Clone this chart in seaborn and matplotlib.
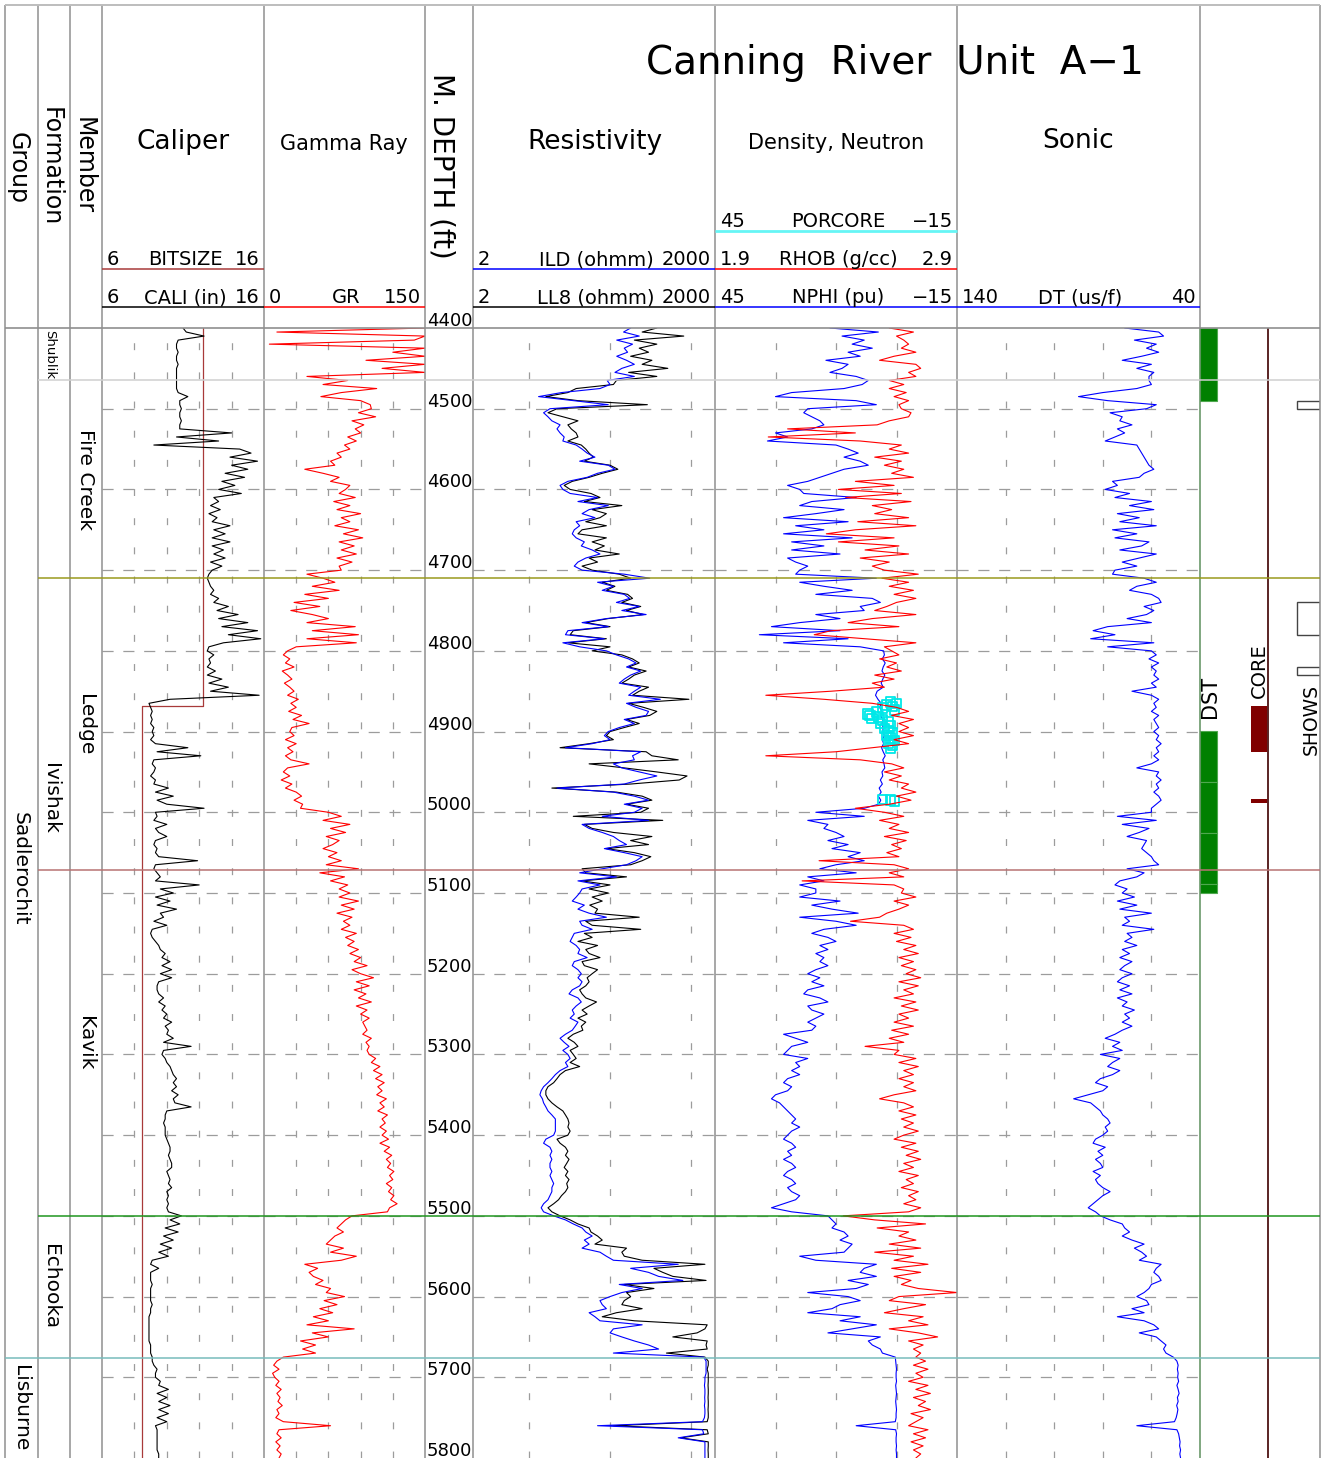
import numpy as np
import pandas as pd
import matplotlib
matplotlib.use("Agg")
import matplotlib.pyplot as plt
import seaborn as sns

sns.set_theme(style="white")
plt.rcParams["font.family"] = ["DejaVu Sans"]
plt.rcParams["text.color"] = "black"
plt.rcParams["lines.scale_dashes"] = False

# ---------------------------------------------------------------- data
TOP_D, BASE_D, STEP_D = 4400, 5800, 5
DEPTH = np.arange(TOP_D, BASE_D + 1, STEP_D)          # sample depths (ft)

CALI = [
    11.0, 11.2, 12.3, 10.7, 10.6, 10.6, 10.7, 10.6, 10.6, 10.7, 10.6, 10.6, 10.6, 10.6, 10.6, 10.6, 10.7, 11.3, 10.8, 10.8,
    10.9, 10.8, 10.8, 10.9, 10.8, 10.8, 14.0, 10.6, 13.2, 9.2, 14.5, 15.2, 13.9, 15.6, 14.0, 15.0, 13.6, 14.8, 13.4, 14.2,
    13.2, 14.6, 12.9, 13.2, 12.7, 13.3, 12.6, 13.1, 12.8, 13.9, 12.9, 13.6, 12.8, 13.9, 12.8, 13.5, 12.9, 13.6, 12.7, 13.4,
    12.8, 12.6, 12.5, 12.6, 12.7, 12.9, 12.7, 13.2, 12.9, 13.8, 13.1, 14.4, 13.2, 15.0, 13.4, 15.6, 13.8, 15.8, 13.5, 12.6,
    12.5, 12.9, 12.6, 12.7, 12.5, 13.0, 12.5, 13.4, 12.6, 13.8, 12.7, 15.7, 10.2, 8.9, 9.0, 9.1, 9.0, 9.1, 9.0, 9.2,
    9.1, 9.2, 9.0, 9.3, 11.3, 9.4, 12.1, 9.2, 9.1, 9.3, 9.2, 9.0, 9.3, 9.2, 10.1, 9.3, 10.4, 9.4, 10.0, 12.3,
    9.3, 9.4, 9.2, 10.0, 9.3, 9.5, 10.0, 9.3, 9.2, 9.4, 9.3, 9.5, 11.9, 9.3, 9.2, 9.4, 9.6, 9.3, 12.0, 9.6,
    10.4, 9.3, 10.2, 9.4, 10.6, 9.6, 9.8, 9.2, 10.0, 9.1, 9.0, 9.1, 9.3, 9.5, 9.6, 9.9, 9.7, 10.2, 9.7, 10.3,
    9.6, 10.3, 9.5, 9.4, 9.4, 9.5, 9.8, 9.5, 9.9, 9.7, 10.0, 9.8, 10.3, 9.9, 10.1, 10.0, 10.4, 9.8, 11.5, 9.8,
    9.7, 9.9, 10.0, 10.2, 10.3, 10.4, 10.6, 10.4, 10.6, 10.3, 10.7, 10.4, 10.5, 11.5, 10.0, 9.9, 9.9, 9.8, 9.9, 9.9,
    9.9, 10.0, 10.1, 10.2, 10.2, 10.1, 10.2, 10.3, 10.3, 10.0, 10.1, 10.2, 10.1, 10.3, 10.0, 10.1, 10.0, 10.1, 10.0, 10.1,
    10.9, 10.2, 10.8, 9.9, 10.7, 9.8, 10.4, 9.6, 10.3, 9.5, 10.1, 9.1, 9.0, 9.5, 9.0, 9.0, 9.0, 9.1, 9.0, 9.0,
    9.0, 9.0, 9.1, 9.0, 9.0, 8.9, 8.9, 8.9, 8.9, 8.9, 8.9, 8.9, 9.0, 9.0, 9.0, 9.1, 9.1, 9.2, 9.4, 9.3,
    9.3, 9.6, 9.5, 10.1, 9.4, 10.0, 9.5, 10.2, 9.5, 10.1, 9.4, 10.0, 9.3, 9.4, 9.4, 9.4, 9.4, 9.4, 9.4, 9.5,
    9.5]

BIT_DEPTH = [4400, 4868, 4868, 5800]
BIT_SIZE = [12.25, 12.25, 8.5, 8.5]

GR = [
    150, 12, 150, 140, 5, 150, 120, 150, 95, 150, 110, 150, 40, 78, 55, 105, 72, 53, 90, 99,
    100, 88, 104, 82, 93, 85, 90, 78, 86, 75, 80, 68, 72, 62, 66, 38, 55, 70, 62, 80,
    76, 70, 85, 65, 80, 68, 90, 72, 80, 66, 88, 74, 92, 70, 84, 72, 86, 68, 82, 70,
    72, 40, 55, 66, 45, 70, 38, 60, 28, 52, 25, 45, 60, 40, 85, 45, 88, 40, 86, 30,
    22, 18, 24, 20, 28, 17, 22, 26, 19, 24, 28, 22, 32, 25, 30, 23, 35, 27, 42, 26,
    24, 28, 20, 30, 22, 27, 20, 25, 42, 22, 18, 24, 16, 26, 20, 30, 35, 28, 36, 34,
    60, 72, 55, 80, 62, 76, 58, 70, 64, 55, 68, 60, 72, 58, 88, 52, 75, 62, 78, 70,
    80, 70, 88, 72, 84, 68, 82, 74, 80, 72, 86, 76, 84, 78, 88, 80, 90, 84, 96, 82,
    90, 102, 86, 98, 84, 95, 88, 100, 86, 96, 90, 98, 92, 94, 96, 92, 100, 95, 98, 96,
    98, 104, 100, 108, 102, 110, 104, 112, 106, 110, 105, 114, 108, 112, 106, 115, 110, 113, 108, 114,
    110, 116, 108, 117, 112, 119, 114, 118, 115, 121, 117, 120, 114, 119, 116, 121, 118, 124, 117, 115,
    82, 76, 72, 68, 74, 66, 62, 58, 74, 62, 86, 72, 38, 50, 42, 46, 55, 48, 62, 58,
    75, 56, 68, 52, 64, 46, 60, 40, 84, 45, 60, 34, 48, 36, 48, 18, 12, 9, 14, 8,
    10, 14, 11, 16, 12, 15, 13, 17, 12, 14, 11, 18, 62, 14, 12, 16, 11, 15, 12, 16,
    14]

ILD = [
    180, 147, 230, 121, 190, 150, 165, 121, 160, 200, 140, 115, 200, 92, 100, 75, 25, 13, 35, 95,
    18, 15, 17, 19, 24, 22, 24, 27, 26, 38, 45, 52, 65, 42, 95, 115, 70, 52, 30, 24,
    26, 32, 70, 40, 95, 55, 45, 65, 38, 42, 36, 34, 38, 48, 44, 60, 75, 50, 40, 36,
    45, 150, 310, 70, 110, 80, 150, 175, 120, 230, 140, 280, 90, 45, 95, 30, 28, 85, 26, 42,
    90, 120, 170, 210, 160, 240, 180, 150, 130, 240, 200, 170, 420, 160, 210, 300, 280, 150, 200, 130,
    95, 85, 100, 60, 28, 240, 190, 200, 110, 140, 230, 380, 230, 150, 22, 110, 200, 300, 150, 250,
    200, 80, 300, 45, 55, 80, 110, 130, 160, 85, 150, 250, 210, 160, 80, 42, 120, 40, 75, 45,
    42, 38, 34, 48, 40, 55, 90, 42, 45, 60, 36, 34, 32, 38, 42, 40, 52, 36, 34, 40,
    44, 40, 45, 42, 34, 31, 40, 44, 38, 34, 36, 32, 40, 37, 34, 28, 24, 27, 31, 26,
    30, 32, 28, 30, 24, 21, 19, 17, 15, 14, 13.5, 14.5, 15, 16, 17, 19, 21, 21, 21, 21,
    20, 16, 15, 18, 19, 18, 19, 18, 18, 19, 18, 19, 20, 19, 19, 18, 17, 15, 14, 15,
    20, 28, 35, 45, 50, 60, 48, 55, 45, 75, 90, 110, 700, 180, 300, 400, 800, 130, 250, 140,
    100, 75, 80, 90, 55, 65, 75, 250, 110, 100, 140, 200, 300, 400, 110, 1450, 1550, 1550, 1550, 1550,
    1500, 1500, 1480, 1500, 1500, 1490, 1500, 1480, 1500, 1500, 1480, 1400, 70, 1400, 1450, 700, 1500, 1500, 1500, 1500,
    1500]

LL8 = [
    380, 250, 820, 200, 380, 230, 300, 180, 330, 250, 520, 170, 380, 120, 110, 38, 30, 16, 40, 290,
    22, 17, 26, 40, 30, 33, 38, 40, 30, 44, 50, 55, 62, 48, 100, 125, 80, 55, 34, 27,
    32, 58, 75, 48, 140, 60, 90, 75, 50, 90, 45, 40, 90, 60, 85, 65, 130, 55, 70, 45,
    60, 130, 180, 80, 115, 90, 165, 190, 140, 240, 160, 260, 95, 50, 100, 35, 32, 90, 30, 100,
    60, 140, 190, 230, 170, 280, 200, 170, 140, 300, 230, 190, 950, 170, 260, 380, 310, 160, 230, 150,
    100, 90, 110, 55, 24, 280, 330, 700, 55, 150, 380, 900, 720, 180, 19, 120, 250, 330, 160, 300,
    240, 35, 450, 48, 60, 110, 330, 180, 300, 90, 200, 320, 250, 180, 45, 50, 160, 45, 100, 55,
    95, 60, 80, 56, 70, 65, 230, 50, 60, 240, 48, 60, 40, 70, 50, 55, 75, 45, 48, 70,
    60, 52, 55, 50, 42, 45, 50, 68, 55, 45, 52, 40, 50, 44, 46, 35, 30, 36, 40, 32,
    35, 38, 32, 42, 28, 24, 22, 20, 17, 16, 16, 17, 19, 22, 26, 28, 30, 31, 30, 32,
    30, 22, 24, 28, 30, 28, 31, 29, 27, 30, 28, 31, 29, 30, 28, 25, 23, 20, 17, 19,
    24, 32, 40, 55, 58, 70, 80, 65, 160, 140, 150, 250, 1500, 350, 450, 600, 1550, 150, 350, 160,
    180, 150, 140, 250, 120, 80, 200, 1600, 1500, 1200, 600, 1600, 1550, 1600, 500, 1500, 1650, 1650, 1600, 1650,
    1650, 1650, 1640, 1650, 1650, 1640, 1650, 1650, 1640, 1650, 1650, 1600, 110, 1600, 1650, 750, 1650, 1650, 1640, 1650,
    1650]

NPHI = [
    16.5, 4.5, 13.5, 8, 11, 6, 12, 9, 17.5, 12, 13.5, 16.5, 10, 7, 8.5, 13, 26, 30, 10, 5,
    22, 23, 21, 19, 18, 21, 30, 27, 32, 15, 12, 9.5, 13, 9, 7, 13, 16, 19, 22, 27,
    24, 23, 10, 21, 24, 13, 20, 28, 12, 25, 18, 28, 11, 26, 18, 26, 14, 27, 25, 22,
    24, 25, 5, 24, 18, 11, 20, 6, 4, 9, 8, 20, 14, 24, 31, 14, 34, 12, 28, 9,
    3.2, 3.0, 3.5, 2.8, 3.3, 3.6, 2.9, 3.4, 3.8, 3.3, 4.8, 5.2, 4.6, 3.8, 4.2, 3.6, 3.9, 3.4, 3.6, 3.3,
    3.4, 3.0, 3.5, 3.2, 3.7, 3.3, 2.8, 3.4, 3.1, 2.9, 3.6, 3.4, 4.0, 3.5, 4.3, 3.8, 4.5, 3.9, 4.4, 8.0,
    20, 8, 22, 17, 18, 15, 13, 17, 12, 16, 9, 12, 8, 15, 19, 10, 22, 18, 24, 20,
    20, 24, 14, 21, 16, 9.5, 24, 15, 10, 18, 21, 17, 15, 19, 17, 20, 18, 19, 17, 20,
    22, 19, 21, 18, 22, 23, 19, 17, 22, 21, 18, 20, 22, 20, 21, 28, 25, 22, 26, 27,
    28, 22, 25, 24, 26, 24, 27, 28, 26, 27, 30, 31, 29, 28, 27, 26, 25, 26, 24, 26,
    27, 28, 26, 25, 27, 26, 28, 26, 25, 27, 28, 26, 25, 27, 26, 24, 25, 28, 31, 26,
    17, 16, 15, 16, 13, 12, 14, 11, 12, 13, 24, 20, 5, 8, 9, 5, 12, 7, 10, 22,
    12, 9, 14, 16, 22, 9, 14, 5, 11, 17, 4, 7, 6, 4, 3.5, 0.3, 0.2, 0.1, 0.0, 0.1,
    0.1, 0.0, 0.2, 0.1, 0.0, 0.1, 0.2, 0.1, 0.0, 0.1, 0.1, 0.3, 10, 0.2, 0.0, 0.1, 0.1, 0.0, 0.1, 0.0,
    0.0]

RHOB = [
    2.62, 2.72, 2.65, 2.68, 2.70, 2.67, 2.73, 2.64, 2.58, 2.73, 2.75, 2.70, 2.73, 2.62, 2.68, 2.62, 2.69, 2.64, 2.70, 2.66,
    2.67, 2.71, 2.70, 2.62, 2.57, 2.20, 2.48, 2.12, 2.50, 2.67, 2.62, 2.70, 2.56, 2.67, 2.60, 2.68, 2.63, 2.72, 2.48, 2.64,
    2.41, 2.67, 2.44, 2.71, 2.55, 2.63, 2.56, 2.70, 2.49, 2.73, 2.48, 2.36, 2.64, 2.41, 2.66, 2.52, 2.70, 2.50, 2.62, 2.55,
    2.60, 2.74, 2.59, 2.70, 2.62, 2.72, 2.64, 2.73, 2.65, 2.61, 2.56, 2.73, 2.55, 2.45, 2.66, 2.38, 2.31, 2.52, 2.73, 2.60,
    2.63, 2.66, 2.58, 2.65, 2.61, 2.67, 2.56, 2.64, 2.55, 2.60, 2.38, 2.11, 2.35, 2.55, 2.65, 2.70, 2.63, 2.72, 2.66, 2.70,
    2.66, 2.72, 2.64, 2.70, 2.55, 2.40, 2.11, 2.50, 2.63, 2.68, 2.60, 2.67, 2.62, 2.70, 2.67, 2.73, 2.65, 2.71, 2.62, 2.48,
    2.60, 2.68, 2.58, 2.66, 2.62, 2.70, 2.60, 2.69, 2.63, 2.67, 2.61, 2.66, 2.33, 2.64, 2.70, 2.62, 2.68, 2.26, 2.64, 2.68,
    2.67, 2.73, 2.64, 2.70, 2.66, 2.61, 2.58, 2.46, 2.68, 2.72, 2.64, 2.71, 2.65, 2.73, 2.68, 2.74, 2.66, 2.72, 2.67, 2.73,
    2.69, 2.75, 2.66, 2.74, 2.68, 2.72, 2.64, 2.73, 2.67, 2.74, 2.66, 2.70, 2.64, 2.72, 2.63, 2.70, 2.62, 2.68, 2.52, 2.66,
    2.64, 2.73, 2.66, 2.74, 2.68, 2.72, 2.66, 2.72, 2.68, 2.73, 2.64, 2.58, 2.68, 2.72, 2.66, 2.73, 2.67, 2.72, 2.68, 2.74,
    2.68, 2.64, 2.73, 2.67, 2.74, 2.69, 2.75, 2.68, 2.72, 2.66, 2.74, 2.69, 2.72, 2.67, 2.74, 2.70, 2.73, 2.68, 2.75, 2.70,
    2.43, 2.56, 2.77, 2.57, 2.70, 2.66, 2.73, 2.62, 2.75, 2.56, 2.72, 2.64, 2.78, 2.63, 2.75, 2.64, 2.71, 2.67, 2.74, 2.90,
    2.66, 2.62, 2.77, 2.68, 2.60, 2.76, 2.70, 2.78, 2.62, 2.74, 2.82, 2.70, 2.76, 2.72, 2.75, 2.73, 2.77, 2.72, 2.78, 2.73,
    2.76, 2.70, 2.78, 2.73, 2.79, 2.72, 2.77, 2.74, 2.79, 2.71, 2.76, 2.73, 2.70, 2.78, 2.72, 2.77, 2.71, 2.76, 2.72, 2.75,
    2.73]

DT = [
    71, 57, 55, 67, 58, 62, 57, 64, 72, 60, 66, 59, 61, 61, 60, 66, 80, 90, 78, 58,
    62, 77, 72, 73, 68, 74, 71, 75, 79, 66, 65, 64, 63, 62, 61, 59, 63, 65, 76, 74,
    79, 69, 75, 60, 69, 59, 74, 65, 73, 58, 76, 66, 75, 61, 64, 73, 58, 65, 72, 66,
    75, 76, 63, 58, 66, 69, 60, 57, 56, 63, 59, 62, 70, 60, 78, 84, 75, 85, 59, 78,
    60, 58, 61, 57, 60, 58, 59, 57, 60, 58, 68, 60, 57, 59, 58, 60, 57, 59, 58, 57,
    59, 57, 58, 56, 58, 57, 59, 57, 60, 66, 57, 58, 56, 58, 57, 59, 57, 56, 58, 60,
    60, 74, 58, 72, 61, 65, 70, 62, 63, 64, 62, 60, 59, 57, 70, 63, 66, 73, 75, 70,
    72, 67, 74, 66, 73, 60, 71, 69, 72, 59, 70, 68, 71, 66, 72, 69, 73, 68, 71, 73,
    68, 72, 74, 69, 73, 68, 74, 70, 72, 67, 71, 69, 72, 68, 72, 75, 79, 73, 76, 72,
    81, 73, 76, 78, 73, 76, 81, 83, 78, 80, 86, 92, 85, 83, 81, 80, 78, 77, 79, 78,
    80, 83, 84, 79, 82, 80, 83, 81, 80, 84, 81, 83, 82, 80, 77, 80, 82, 84, 86, 83,
    81, 77, 72, 71, 69, 72, 68, 63, 67, 64, 62, 65, 56, 58, 59, 57, 56, 60, 61, 63,
    66, 62, 61, 68, 63, 74, 63, 59, 57, 65, 58, 56, 54, 55, 54, 51, 49.5, 49.0, 49.3, 49.0,
    49.2, 48.8, 49.5, 49.0, 48.6, 49.3, 49.0, 49.6, 49.1, 49.4, 49.8, 50.5, 66, 49.5, 48.8, 48.5, 48.2, 48.4, 48.0, 48.3,
    48.0]

POR_DEPTH = [4863, 4865, 4867, 4869, 4871, 4873, 4876, 4878, 4880, 4882, 4884, 4886, 4888, 4890,
             4893, 4896, 4899, 4902, 4905, 4908, 4911, 4914, 4917, 4920, 4984, 4985, 4986]
POR_VAL = [1.5, 0.0, 2.5, 1.0, 3.5, 0.5, 5.0, 7.0, 6.5, 4.5, 6.0, 3.5, 2.0, 4.0,
           1.5, 3.0, 2.0, 1.0, 2.5, 1.5, 0.5, 2.0, 1.0, 1.5, 3.5, 1.5, 0.5]

DST_TOP = [4400, 4899, 4963, 5026, 5089]
DST_BASE = [4490, 4963, 5026, 5089, 5100]
CORE_TOP = [4868, 4984]
CORE_BASE = [4925, 4988]
SHOW_TOP = [4490, 4739, 4820]
SHOW_BASE = [4500, 4780, 4830]

TOPS_DEPTH = [4465, 4710, 5072, 5500, 5676]
TOPS_COLOR = ["#cfcfcf", "#9a9a1e", "#b87373", "#1f961f", "#78bcbc"]
GROUPS = [("Sadlerochit", 4465, 5676), ("Lisburne", 5676, 5800)]
FORMATIONS = [("Shublik", 4400, 4465), ("Ivishak", 4465, 5500), ("Echooka", 5500, 5676)]
MEMBERS = [("Fire Creek", 4465, 4710), ("Ledge", 4710, 5072), ("Kavik", 5072, 5500)]

logs = pd.DataFrame({"DEPTH": DEPTH, "CALI": CALI, "GR": GR, "ILD": ILD, "LL8": LL8,
                     "NPHI": NPHI, "RHOB": RHOB, "DT": DT})
bits = pd.DataFrame({"DEPTH": BIT_DEPTH, "BIT": BIT_SIZE})
core_pts = pd.DataFrame({"DEPTH": POR_DEPTH, "POR": POR_VAL})

# ---------------------------------------------------------------- layout
W, H = 1328, 1458
HDR_Y = 328
BORDER = "#8f8f8f"
GRIDC = "#9c9c9c"
FS_SCALE = 14
TXT = "black"


def ypx(d):
    return HDR_Y + (d - TOP_D) * (H - HDR_Y) / (BASE_D - TOP_D)


fig = plt.figure(figsize=(W / 100, H / 100), dpi=100)
fig.patch.set_facecolor("white")


def make_track(x0, x1, xlim, log=False, vgrid=(), hgrid=True):
    ax = fig.add_axes([x0 / W, 0, (x1 - x0) / W, (H - HDR_Y) / H])
    if log:
        ax.set_xscale("log")
    ax.set_xlim(*xlim)
    ax.set_ylim(BASE_D, TOP_D)
    ax.axis("off")
    for v in vgrid:
        ax.axvline(v, color=GRIDC, lw=0.9, ls=(0, (5, 16)), zorder=0)
    if hgrid:
        for d in range(TOP_D + 100, BASE_D, 100):
            ax.axhline(d, color=GRIDC, lw=0.9, ls=(0, (8, 7)), zorder=0)
    return ax


def curve(ax, data, col, color, lw=0.8, ycol="DEPTH"):
    sns.lineplot(data=data, x=col, y=ycol, orient="y", sort=False, estimator=None,
                 color=color, lw=lw, ax=ax, legend=False)
    ax.axis("off")


# caliper
ax_cal = make_track(102, 264, (6, 16), vgrid=(8, 10, 12, 14))
curve(ax_cal, bits, "BIT", "#a83a3a", lw=0.9)
curve(ax_cal, logs, "CALI", "black")
ax_cal.set_xlim(6, 16); ax_cal.set_ylim(BASE_D, TOP_D)

# gamma ray
ax_gr = make_track(264, 425, (0, 150), vgrid=(30, 60, 90, 120))
curve(ax_gr, logs, "GR", "#ff0000")
ax_gr.set_xlim(0, 150); ax_gr.set_ylim(BASE_D, TOP_D)

# resistivity
ax_res = make_track(473, 715, (2, 2000), log=True, vgrid=(10, 100, 1000))
curve(ax_res, logs, "LL8", "black")
curve(ax_res, logs, "ILD", "#0000ff")
ax_res.set_xlim(2, 2000); ax_res.set_ylim(BASE_D, TOP_D)

# density / neutron
ax_nph = make_track(715, 957, (45, -15), vgrid=(30, 15, 0))
ax_rho = make_track(715, 957, (1.9, 2.9), hgrid=False)
curve(ax_rho, logs, "RHOB", "#ff0000")
curve(ax_nph, logs, "NPHI", "#0000ff")
sns.scatterplot(data=core_pts, x="POR", y="DEPTH", ax=ax_nph, marker="s", s=48,
                facecolors="none", edgecolor="#00e8e8", linewidth=1.3, legend=False, zorder=5)
ax_nph.axis("off")
ax_nph.set_xlim(45, -15); ax_nph.set_ylim(BASE_D, TOP_D)
ax_rho.set_xlim(1.9, 2.9); ax_rho.set_ylim(BASE_D, TOP_D)

# sonic
ax_dt = make_track(957, 1200, (140, 40), vgrid=(120, 100, 80, 60))
curve(ax_dt, logs, "DT", "#0000ff")
ax_dt.set_xlim(140, 40); ax_dt.set_ylim(BASE_D, TOP_D)

# DST / core / shows
ax_ev = make_track(1200, 1320, (1200, 1320), hgrid=False)
for t, b in zip(DST_TOP, DST_BASE):
    ax_ev.barh((t + b) / 2, 17, height=b - t, left=1200, color="#008000",
               edgecolor="#4fa84f", linewidth=0.8)
for t, b in zip(CORE_TOP, CORE_BASE):
    ax_ev.barh((t + b) / 2, 17, height=b - t, left=1251, color="#800000", linewidth=0)
for t, b in zip(SHOW_TOP, SHOW_BASE):
    ax_ev.barh((t + b) / 2, 23, height=b - t, left=1297, facecolor="white",
               edgecolor="#444444", linewidth=1.0)
ax_ev.set_xlim(1200, 1320); ax_ev.set_ylim(BASE_D, TOP_D)

# ---------------------------------------------------------------- overlay
ov = fig.add_axes([0, 0, 1, 1], zorder=10)
ov.set_xlim(0, W)
ov.set_ylim(H, 0)
ov.axis("off")


def hline(y, x0, x1, color, lw=1.1):
    ov.plot([x0, x1], [y, y], color=color, lw=lw, solid_capstyle="butt")


def vline(x, y0, y1, color, lw=1.1):
    ov.plot([x, x], [y0, y1], color=color, lw=lw, solid_capstyle="butt")


def txt(x, y, s, **kw):
    kw.setdefault("color", TXT)
    ov.text(x, y, s, **kw)


for x in [5, 38, 70, 102, 264, 425, 473, 715, 957, 1320]:
    vline(x, 5, H, BORDER)
vline(1200, 5, HDR_Y, BORDER)
vline(1200, HDR_Y, H, "#5e8f5e")
vline(1268, HDR_Y, H, "#5a2424", lw=1.4)
hline(5, 5, 1320, "#bdbdbd", lw=1.4)
hline(HDR_Y, 5, 1320, BORDER, lw=1.2)

# formation tops
for d, c in zip(TOPS_DEPTH, TOPS_COLOR):
    x0 = 5 if d == TOPS_DEPTH[-1] else 38
    hline(ypx(d), x0, 1320, c, lw=1.1)

# zone labels
for name, t, b in GROUPS:
    txt(20, ypx((t + b) / 2), name, rotation=-90, ha="center", va="center", fontsize=14.5)
for name, t, b in FORMATIONS:
    fs = 9.5 if name == "Shublik" else 14.5
    txt(50, ypx((t + b) / 2), name, rotation=-90, ha="center", va="center", fontsize=fs)
for name, t, b in MEMBERS:
    txt(85, ypx((t + b) / 2), name, rotation=-90, ha="center", va="center", fontsize=14.5)

# depth labels
for d in range(TOP_D, BASE_D + 1, 100):
    txt(427, ypx(d) + 2, str(d), ha="left", va="bottom", fontsize=13)

# header titles
txt(895, 63, "Canning  River  Unit  A\u22121", ha="center", va="center", fontsize=28)
txt(18, 168, "Group", rotation=-90, ha="center", va="center", fontsize=17)
txt(51, 167, "Formation", rotation=-90, ha="center", va="center", fontsize=17)
txt(84, 166, "Member", rotation=-90, ha="center", va="center", fontsize=17)
txt(442, 166, "M. DEPTH (ft)", rotation=-90, ha="center", va="center", fontsize=20)
txt(183, 142, "Caliper", ha="center", va="center", fontsize=19)
txt(344, 144, "Gamma Ray", ha="center", va="center", fontsize=15)
txt(595, 142, "Resistivity", ha="center", va="center", fontsize=19)
txt(836, 143, "Density, Neutron", ha="center", va="center", fontsize=15)
txt(1078, 141, "Sonic", ha="center", va="center", fontsize=19)

# scale rows: (line y, x0, x1, colour, left, name, right)
SCALE_ROWS = [
    (269, 102, 264, "#a83a3a", "6", "BITSIZE", "16"),
    (307, 102, 264, "black", "6", "CALI (in)", "16"),
    (307, 264, 425, "#ff0000", "0", "GR", "150"),
    (269, 473, 715, "#0000ff", "2", "ILD (ohmm)", "2000"),
    (307, 473, 715, "black", "2", "LL8 (ohmm)", "2000"),
    (231, 715, 957, "#66f5f5", "45", "PORCORE", "\u221215"),
    (269, 715, 957, "#ff0000", "1.9", "RHOB (g/cc)", "2.9"),
    (307, 715, 957, "#0000ff", "45", "NPHI (pu)", "\u221215"),
    (307, 957, 1200, "#0000ff", "140", "DT (us/f)", "40"),
]
for y, x0, x1, c, lft, name, rgt in SCALE_ROWS:
    hline(y, x0, x1, c, lw=2.0 if name == "PORCORE" else 1.1)
    txt(x0 + 5, y - 4, lft, ha="left", va="baseline", fontsize=FS_SCALE)
    txt(x1 - 4, y - 4, rgt, ha="right", va="baseline", fontsize=FS_SCALE)
    txt((x0 + x1) / 2 + 2, y - 4, name, ha="center", va="baseline", fontsize=FS_SCALE)

# event column labels
txt(1210, 697, "DST", rotation=90, ha="center", va="center", fontsize=15)
txt(1259, 671, "CORE", rotation=90, ha="center", va="center", fontsize=14)
txt(1311, 719, "SHOWS", rotation=90, ha="center", va="center", fontsize=13.5)

fig.savefig("out.png", dpi=100, facecolor="white")
